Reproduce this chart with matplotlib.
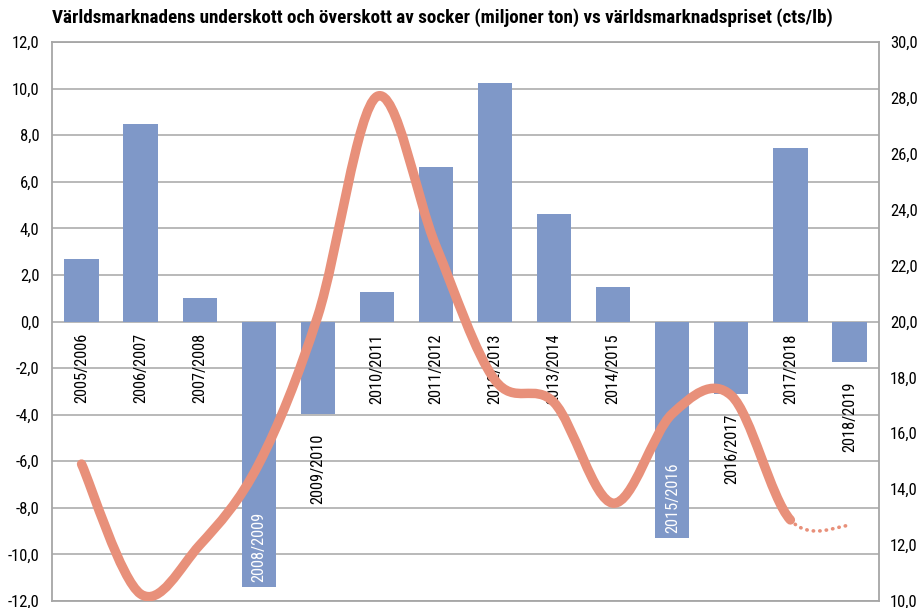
import matplotlib
matplotlib.use("Agg")
import matplotlib.pyplot as plt
from matplotlib.path import Path
from matplotlib.patches import PathPatch
from matplotlib import font_manager as fm
import numpy as np

categories = ["2005/2006", "2006/2007", "2007/2008", "2008/2009", "2009/2010",
              "2010/2011", "2011/2012", "2012/2013", "2013/2014", "2014/2015",
              "2015/2016", "2016/2017", "2017/2018", "2018/2019"]
balance = [2.7, 8.5, 1.03, -11.4, -3.95, 1.25, 6.65, 10.26, 4.6, 1.46,
           -9.3, -3.1, 7.47, -1.72]
price = [14.9, 10.25, 12.0, 14.9, 20.2, 28.05, 22.7, 17.9, 17.1, 13.5,
         16.7, 17.35, 12.9, 12.7]
left_ticks = [-12, -10, -8, -6, -4, -2, 0, 2, 4, 6, 8, 10, 12]
right_ticks = [10, 12, 14, 16, 18, 20, 22, 24, 26, 28, 30]
title = "Världsmarknadens underskott och överskott av socker (miljoner ton) vs världsmarknadspriset (cts/lb)"

names = {f.name for f in fm.fontManager.ttflist}
FONT = "DejaVu Sans"
for cand in ["Roboto Condensed", "IBM Plex Sans Condensed", "Open Sans Condensed",
             "Barlow Semi Condensed", "Barlow Condensed", "Liberation Sans Narrow",
             "Arial Narrow", "PT Sans Narrow", "Archivo Narrow"]:
    if cand in names:
        FONT = cand
        break
plt.rcParams["font.family"] = [FONT, "DejaVu Sans"]

BAR = "#7F98C8"
LINE = "#E8907A"
GRID = "#A6A6A6"

fig = plt.figure(figsize=(9.21, 6.08), dpi=100)
ax = fig.add_axes([52/921, 7/608, (879-52)/921, (601-42)/608])
ax2 = ax.twinx()

x = np.arange(len(categories))
ax.bar(x, balance, width=0.58, color=BAR, zorder=2)
ax.set_xlim(-0.5, len(categories) - 0.5)
ax.set_ylim(-12, 12)
ax.set_yticks(left_ticks)
ax.set_yticklabels([f"{t:.1f}".replace(".", ",") for t in left_ticks], fontsize=12)
ax.set_xticks([])
ax.grid(axis="y", color=GRID, lw=1.1, zorder=0)
ax.set_axisbelow(True)
ax.tick_params(axis="y", length=0, pad=9)
for s in ax.spines.values():
    s.set_color(GRID)
    s.set_linewidth(1.3)

ax2.set_ylim(10, 30)
ax2.set_yticks(right_ticks)
ax2.set_yticklabels([f"{t:.1f}".replace(".", ",") for t in right_ticks], fontsize=12)
ax2.tick_params(axis="y", length=0, pad=8)
for s in ax2.spines.values():
    s.set_visible(False)

# category labels
LS = 11.8
for i, (c, v) in enumerate(zip(categories, balance)):
    if v >= 0:
        ax.text(i, -0.5, c, rotation=90, ha="center", va="top", fontsize=LS, color="black", zorder=3)
    elif v < -5:
        ax.text(i, v + 0.2, c, rotation=90, ha="center", va="bottom", fontsize=LS, color="white", zorder=3)
    else:
        ax.text(i, v - 0.85, c, rotation=90, ha="center", va="top", fontsize=LS, color="black", zorder=3)

# smooth (Bezier) line through price points, Excel-like smoothing
def bezier_path(xs, ys, i0, i1):
    n = len(xs)
    verts = [(xs[i0], ys[i0])]
    codes = [Path.MOVETO]
    for i in range(i0, i1):
        p0 = max(i - 1, 0)
        p3 = min(i + 2, n - 1)
        c1 = (xs[i] + (xs[i + 1] - xs[p0]) / 6, ys[i] + (ys[i + 1] - ys[p0]) / 6)
        c2 = (xs[i + 1] - (xs[p3] - xs[i]) / 6, ys[i + 1] - (ys[p3] - ys[i]) / 6)
        verts += [c1, c2, (xs[i + 1], ys[i + 1])]
        codes += [Path.CURVE4] * 3
    return Path(verts, codes)

xs = list(x.astype(float))
n = len(price)
solid = bezier_path(xs, price, 0, n - 2)
dotted = bezier_path(xs, price, n - 2, n - 1)
ax2.add_patch(PathPatch(solid, facecolor="none", edgecolor=LINE, lw=6.8,
                        capstyle="round", joinstyle="round", zorder=4))
ax2.add_patch(PathPatch(dotted, facecolor="none", edgecolor=LINE, lw=2.6,
                        linestyle=(0, (0.1, 1.7)), capstyle="round", zorder=4))

fig.text(52/921, 1 - 18/608, title, fontsize=13.8, fontweight="bold", va="center", ha="left")

fig.savefig("out.png", dpi=100)
